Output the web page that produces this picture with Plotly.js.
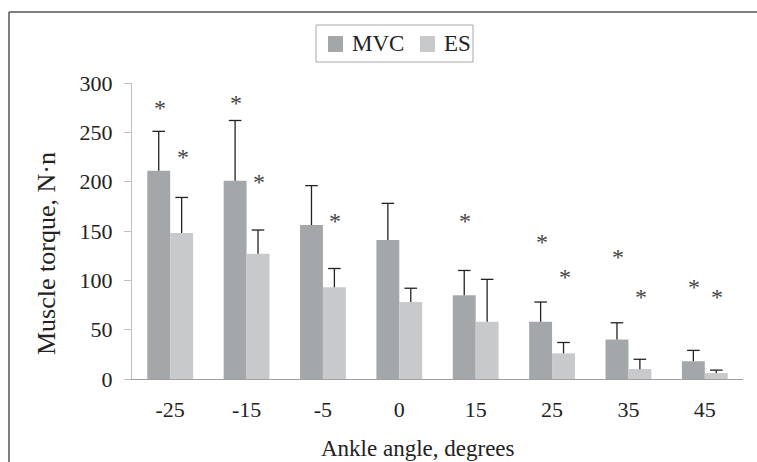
<!DOCTYPE html>
<html>
<head>
<meta charset="utf-8">
<script src="https://cdn.plot.ly/plotly-3.0.1.min.js"></script>
<style>
html,body{margin:0;padding:0;background:#fff;}
#chart{width:757px;height:462px;}
</style>
</head>
<body>
<div id="chart"></div>
<script>
var angles = ['-25', '-15', '-5', '0', '15', '25', '35', '45'];
var mvc = [211, 201, 156, 141, 85, 58, 40, 18];
var mvcErrTop = [251, 262, 196, 178, 110, 78, 57, 29];
var es = [148, 127, 93, 78, 58, 26, 10, 6];
var esErrTop = [184, 151, 112, 92, 101, 37, 20, 9];
var mvcStar = [278, 283, null, null, 163, 142, 127, 96];
var esStar = [228, 203, 163, null, null, 106, 86, 86];
var seriesNames = ['MVC', 'ES'];
var seriesColors = ['#a4a7aa', '#c8c9cb'];

var FONT = '"Liberation Serif", "Times New Roman", serif';
var errColor = '#222222';
var BARGAP = 0.4;
var OFFSET = (1 - BARGAP) / 4;

// page geometry (pixels) used to place paper-referenced items
var W = 757, H = 462, ML = 132, MR = 14, MT = 83, MB = 83;
var PW = W - ML - MR, PH = H - MT - MB;
function px(x) { return (x - ML) / PW; }
function py(y) { return (H - MB - y) / PH; }

function diff(top, v) { return top.map(function (t, i) { return t - v[i]; }); }
function zeros(a) { return a.map(function () { return 0; }); }
function idx(shift) { return angles.map(function (a, i) { return i + shift; }); }

var traces = [
  {
    type: 'bar', name: seriesNames[0], x: angles, y: mvc,
    marker: {color: seriesColors[0]},
    error_y: {type: 'data', symmetric: false, array: diff(mvcErrTop, mvc), arrayminus: zeros(mvc),
              width: 0, thickness: 1.3, color: errColor}
  },
  {
    type: 'bar', name: seriesNames[1], x: angles, y: es,
    marker: {color: seriesColors[1]},
    error_y: {type: 'data', symmetric: false, array: diff(esErrTop, es), arrayminus: zeros(es),
              width: 0, thickness: 1.3, color: errColor}
  },
  {
    type: 'scatter', mode: 'markers', x: idx(-OFFSET), y: mvcErrTop, xaxis: 'x2',
    marker: {symbol: 'line-ew', size: 9, line: {width: 1.3, color: errColor}}
  },
  {
    type: 'scatter', mode: 'markers', x: idx(OFFSET), y: esErrTop, xaxis: 'x2',
    marker: {symbol: 'line-ew', size: 9, line: {width: 1.3, color: errColor}}
  }
];

var annotations = [];
function addStars(stars, shift) {
  stars.forEach(function (s, i) {
    if (s === null) return;
    annotations.push({
      x: i + shift, y: s, xref: 'x2', yref: 'y', text: '*', showarrow: false,
      xshift: 1, yshift: -3, yanchor: 'middle',
      font: {family: FONT, size: 24, color: '#444444'}
    });
  });
}
addStars(mvcStar, -OFFSET);
addStars(esStar, OFFSET);

annotations.push({
  text: 'Muscle torque, N·n', xref: 'paper', yref: 'paper', x: px(46), y: py(253),
  textangle: -90, showarrow: false, xanchor: 'center', yanchor: 'middle',
  font: {family: FONT, size: 26, color: '#222222'}
});
annotations.push({
  text: 'Ankle angle, degrees', xref: 'paper', yref: 'paper', x: px(417.5), y: py(448),
  showarrow: false, xanchor: 'center', yanchor: 'middle',
  font: {family: FONT, size: 23, color: '#222222'}
});

var shapes = [
  {type: 'line', xref: 'paper', yref: 'paper', x0: px(9), x1: px(9), y0: py(470), y1: py(12),
   line: {color: '#555555', width: 1.5}},
  {type: 'line', xref: 'paper', yref: 'paper', x0: px(9), x1: px(770), y0: py(12), y1: py(12),
   line: {color: '#555555', width: 1.5}},
  // legend box
  {type: 'rect', xref: 'paper', yref: 'paper', x0: px(316), x1: px(473), y0: py(62), y1: py(25),
   line: {color: '#a6a6a6', width: 1}, fillcolor: '#ffffff'}
];
var legendSwatchX = [328, 420];
var legendTextX = [350, 442];
seriesNames.forEach(function (name, i) {
  shapes.push({type: 'rect', xref: 'paper', yref: 'paper',
    x0: px(legendSwatchX[i]), x1: px(legendSwatchX[i] + 15), y0: py(52), y1: py(36),
    line: {width: 0}, fillcolor: seriesColors[i]});
  annotations.push({text: name, xref: 'paper', yref: 'paper', x: px(legendTextX[i]), y: py(44),
    xanchor: 'left', yanchor: 'middle', showarrow: false,
    font: {family: FONT, size: 23, color: '#222222'}});
});

var layout = {
  width: W, height: H,
  margin: {l: ML, r: MR, t: MT, b: MB},
  paper_bgcolor: '#ffffff', plot_bgcolor: '#ffffff',
  font: {family: FONT, size: 22, color: '#222222'},
  barmode: 'group', bargap: BARGAP, bargroupgap: 0,
  showlegend: false,
  xaxis: {
    type: 'category', showline: true, linecolor: '#a0a0a0', linewidth: 1,
    ticks: '', showgrid: false, zeroline: false,
    tickfont: {family: FONT, size: 22, color: '#222222'},
    ticklabelstandoff: 11
  },
  xaxis2: {
    overlaying: 'x', range: [-0.5, angles.length - 0.5], visible: false, fixedrange: true
  },
  yaxis: {
    range: [0, 300], dtick: 50, showline: true, linecolor: '#bfbfbf', linewidth: 1,
    ticks: 'outside', ticklen: 7, tickcolor: '#bfbfbf', showgrid: false, zeroline: false,
    tickfont: {family: FONT, size: 22, color: '#222222'},
    ticklabelstandoff: 7
  },
  annotations: annotations,
  shapes: shapes
};

Plotly.newPlot('chart', traces, layout, {displayModeBar: false, staticPlot: true});
</script>
</body>
</html>
